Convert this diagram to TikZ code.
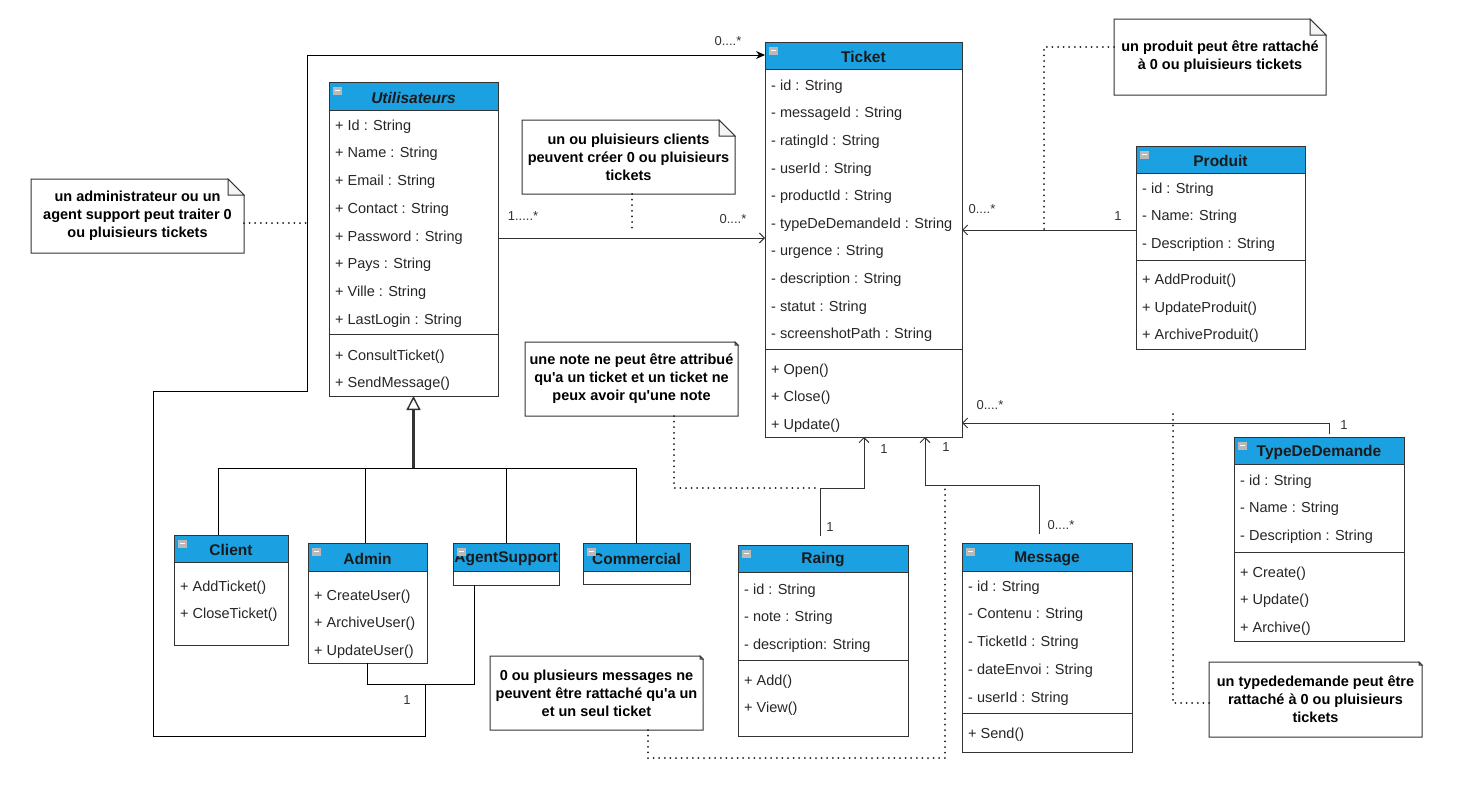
\documentclass[tikz,border=0pt]{standalone}
\usepackage{fontspec}
\setmainfont{Liberation Sans}
\usetikzlibrary{arrows.meta,calc}

\definecolor{hdrblue}{HTML}{1BA1E2}
\definecolor{edge}{HTML}{333333}
\definecolor{ink}{HTML}{1A1A1A}

\tikzset{
  boxline/.style={draw=edge, line width=1pt},
  classbody/.style={draw=none, fill=white, inner sep=0pt, outer sep=0pt},
  classtitle/.style={font=\fontsize{15.5}{17}\selectfont\bfseries, text=ink, inner sep=0pt},
  member/.style={font=\fontsize{14.5}{16}\selectfont, text=black!85, anchor=west, inner sep=0pt},
  notebody/.style={fill=white, inner sep=0pt, outer sep=0pt, align=center,
    font=\fontsize{14.5}{18}\selectfont\bfseries, text=black},
  mult/.style={font=\fontsize{13}{15}\selectfont, text=edge, inner sep=0pt},
  assoc/.style={draw=edge, line width=1pt, -{Straight Barb[length=5pt,width=10pt]}},
  plainlink/.style={draw=black, line width=1pt},
  genstem/.style={draw=edge, line width=2.2pt, -{Triangle[open, length=14pt, width=14pt, line width=1.4pt]}},
  anchorline/.style={draw=black!90, line width=2pt, line cap=round, dash pattern=on 0pt off 5.6pt},
}

% #1 name, #2 left, #3 top, #4 width, #5 height, #6 header height, #7 separator y (0 = none), #8 title
\newcommand\umlclass[8]{%
  \node[classbody, minimum width=#4pt, minimum height=#5pt, anchor=north west] (#1) at (#2,#3) {};
  \fill[hdrblue] (#1.north west) rectangle ([yshift=-#6pt]#1.north east);
  \draw[boxline] ([yshift=-#6pt]#1.north west) -- ([yshift=-#6pt]#1.north east);
  \ifnum#7>0 \draw[boxline] (#2,#7) -- ++(#4pt,0pt);\fi
  \draw[boxline] (#1.north west) rectangle (#1.south east);
  \node[classtitle] (#1-title) at ($(#1.north)+(0,{#6/2+1.5})$) {#8};
  \fill[gray!55] ([shift={(4pt,-5pt)}]#1.north west) rectangle ++(9pt,-8pt);
  \draw[white, line width=1.2pt] ([shift={(6pt,-8.5pt)}]#1.north west) -- ++(5pt,0pt);
}

% #1 name prefix, #2 x, #3 first row y, #4 row step, #5 list of members
\newcommand\members[5]{%
  \foreach \txt [count=\k] in {#5} {\node[member] (#1\k) at (#2,{#3+1.5+(\k-1)*#4}) {\txt};}
}

% #1 name, #2 left, #3 top, #4 width, #5 height, #6 fold size, #7 text
\newcommand\umlnote[7]{%
  \node[notebody, minimum width=#4pt, minimum height=#5pt, anchor=north west] (#1) at (#2,#3) {#7};
  \draw[boxline] (#1.north west) -- ([xshift=-#6pt]#1.north east) -- ([yshift=-#6pt]#1.north east)
    -- (#1.south east) -- (#1.south west) -- cycle;
  \draw[boxline, fill=gray!8] ([xshift=-#6pt]#1.north east) -- ([xshift=-#6pt,yshift=-#6pt]#1.north east)
    -- ([yshift=-#6pt]#1.north east) -- cycle;
}

\begin{document}
\begin{tikzpicture}[x=1pt,y=-1pt]
\fill[white] (0,0) rectangle (1468,788);
\useasboundingbox (0,0) rectangle (1468,788);

% ---------- classes ----------
\umlclass{util}{329}{82}{169}{314}{28}{334}{\itshape Utilisateurs}
\members{util-a}{335}{125}{27.7}{+ Id : String, + Name : String, + Email : String, + Contact : String, + Password : String, + Pays : String, + Ville : String, + LastLogin : String}
\members{util-m}{335}{355}{27.5}{+ ConsultTicket(), + SendMessage()}

\umlclass{ticket}{765}{42}{197}{395}{27}{349}{Ticket}
\members{ticket-a}{771}{85}{27.6}{- id : String, - messageId : String, - ratingId : String, - userId : String, - productId : String, - typeDeDemandeId : String, - urgence : String, - description : String, - statut : String, - screenshotPath : String}
\members{ticket-m}{771}{369}{27.5}{+ Open(), + Close(), + Update()}

\umlclass{produit}{1136}{146}{169}{203}{27}{260}{Produit}
\members{produit-a}{1142}{188}{27.6}{- id : String, - Name: String, - Description : String}
\members{produit-m}{1142}{279.5}{27.5}{+ AddProduit(), + UpdateProduit(), + ArchiveProduit()}

\umlclass{tdd}{1234}{437}{170}{204}{27}{552}{TypeDeDemande}
\members{tdd-a}{1240}{480}{27.5}{- id : String, - Name : String, - Description : String}
\members{tdd-m}{1240}{572}{27.5}{+ Create(), + Update(), + Archive()}

\umlclass{raing}{738}{545}{170}{191}{27}{660}{Raing}
\members{raing-a}{744}{589}{27.5}{- id : String, - note : String, - description: String}
\members{raing-m}{744}{680}{27}{+ Add(), + View()}

\umlclass{message}{962}{543}{170}{209}{28}{713}{Message}
\members{message-a}{968}{586}{27.7}{- id : String, - Contenu : String, - TicketId : String, - dateEnvoi : String, - userId : String}
\members{message-m}{968}{733}{27}{+ Send()}

\umlclass{client}{174}{535}{114}{110}{27}{0}{Client}
\members{client-m}{180}{586}{27}{+ AddTicket(), + CloseTicket()}

\umlclass{admin}{308}{543}{119}{120}{28}{0}{Admin}
\members{admin-m}{314}{595}{27.5}{+ CreateUser(), + ArchiveUser(), + UpdateUser()}

\umlclass{agent}{453}{543}{106}{42}{28}{0}{AgentSupport}
\umlclass{commercial}{583}{543}{107}{41}{28}{0}{Commercial}

% ---------- notes ----------
\umlnote{n1}{31}{179}{213}{74}{16}{un administrateur ou un\\agent support peut traiter 0\\ou pluisieurs tickets}
\umlnote{n2}{522}{120}{213}{74}{16}{un ou pluisieurs clients\\peuvent créer 0 ou pluisieurs\\tickets}
\umlnote{n3}{1114}{19}{212}{76}{16}{un produit peut être rattaché\\à 0 ou pluisieurs tickets}
\umlnote{n4}{525}{342}{213}{74}{3}{une note ne peut être attribué\\qu\textquotesingle a un ticket et un ticket ne\\peux avoir qu\textquotesingle une note}
\umlnote{n5}{490}{656}{213}{74}{3}{0 ou plusieurs messages ne\\peuvent être rattaché qu\textquotesingle a un\\et un seul ticket}
\umlnote{n6}{1209}{662}{213}{75}{3}{un typededemande peut être\\rattaché à 0 ou pluisieurs\\tickets}

% ---------- generalisation ----------
\coordinate (genJ) at (413.5,468);
\coordinate (gC) at (218,468);
\coordinate (gA) at (365,468);
\coordinate (gS) at (506,468);
\coordinate (gM) at (636,468);
\draw[plainlink] (client.north -| gC) -- (gC) -- (gM) -- (commercial.north -| gM);
\draw[plainlink] (admin.north -| gA) -- (gA);
\draw[plainlink] (agent.north -| gS) -- (gS);
\draw[genstem] (genJ) -- (util.south);

% ---------- associations ----------
\coordinate (lvlUT) at (0,238);
\draw[assoc] (util.east |- lvlUT) -- (ticket.west |- lvlUT);
\node[mult] (m-ut1) at (523,216) {1.....*};
\node[mult] (m-ut2) at (733,219) {0....*};

\coordinate (lvlPR) at (0,230);
\draw[assoc] (produit.west |- lvlPR) -- (ticket.east |- lvlPR);
\node[mult] (m-pr1) at (982,209) {0....*};
\node[mult] (m-pr2) at (1118,216) {1};

\coordinate (tddBend) at (1329,423);
\draw[assoc, shorten <=3pt] (tdd.north -| tddBend) -- (tddBend) -- (ticket.east |- tddBend);
\node[mult] (m-td1) at (990,405) {0....*};
\node[mult] (m-td2) at (1344,425) {1};

\coordinate (rgLow) at (820,488);
\coordinate (rgHigh) at (864,488);
\draw[assoc, shorten <=9pt] (raing.north -| rgLow) -- (rgLow) -- (rgHigh) -- (ticket.south -| rgHigh);
\node[mult] (m-rg1) at (884,449) {1};
\node[mult] (m-rg2) at (830,527) {1};

\coordinate (msLow) at (1039,485);
\coordinate (msHigh) at (925,485);
\draw[assoc, shorten <=9pt] (message.north -| msLow) -- (msLow) -- (msHigh) -- (ticket.south -| msHigh);
\node[mult] (m-ms1) at (946,447) {1};
\node[mult] (m-ms2) at (1061,525) {0....*};

% admin / agent support link and its route to the ticket
\coordinate (aaL) at (367,684);
\coordinate (aaR) at (474,684);
\draw[plainlink] (admin.south -| aaL) -- (aaL) -- (aaR) -- (agent.south -| aaR);
\coordinate (stSrc) at (425,684);
\coordinate (stB1) at (425,736);
\coordinate (stB2) at (153,736);
\coordinate (stB3) at (153,391);
\coordinate (stB4) at (307,391);
\coordinate (stB5) at (307,55);
\draw[plainlink, -{Stealth[length=9pt,width=8pt]}] (stSrc) -- (stB1) -- (stB2) -- (stB3) -- (stB4) -- (stB5) -- (ticket.west |- stB5);
\node[mult] (m-st1) at (407,700) {1};
\node[mult] (m-st2) at (728,41) {0....*};

% ---------- note anchors ----------
\coordinate (d1) at (307,223);
\draw[anchorline] (n1.east |- d1) -- (d1);
\coordinate (d2) at (632,233);
\draw[anchorline] (n2.south -| d2) -- (d2);
\coordinate (d3a) at (1044,47);
\coordinate (d3b) at (1044,229);
\draw[anchorline] (n3.west |- d3a) -- (d3a) -- (d3b);
\coordinate (d4a) at (674,488);
\coordinate (d4b) at (818,488);
\draw[anchorline] (n4.south -| d4a) -- (d4a) -- (d4b);
\coordinate (d5a) at (648,758);
\coordinate (d5b) at (945,758);
\coordinate (d5c) at (945,485);
\draw[anchorline] (n5.south -| d5a) -- (d5a) -- (d5b) -- (d5c);
\coordinate (d6a) at (1173,703);
\coordinate (d6b) at (1173,410);
\draw[anchorline] (n6.west |- d6a) -- (d6a) -- (d6b);
\end{tikzpicture}
\end{document}
